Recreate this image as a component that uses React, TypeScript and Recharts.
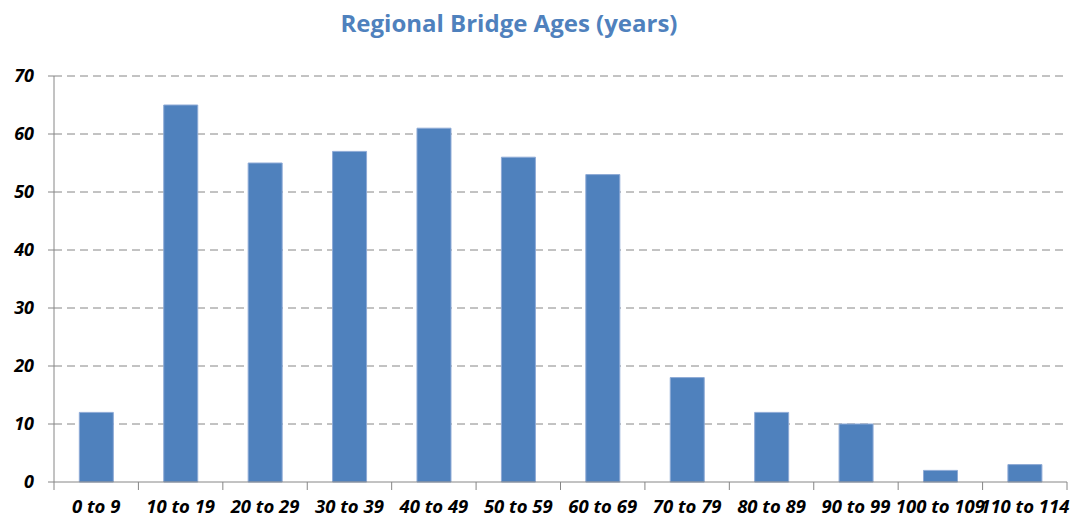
import React from 'react';
import { BarChart, Bar, XAxis, YAxis, CartesianGrid } from 'recharts';

const ageGroups = [
  '0 to 9', '10 to 19', '20 to 29', '30 to 39', '40 to 49', '50 to 59',
  '60 to 69', '70 to 79', '80 to 89', '90 to 99', '100 to 109', '110 to 114',
];
const bridgeCounts = [12, 65, 55, 57, 61, 56, 53, 18, 12, 10, 2, 3];
const yTicks = [0, 10, 20, 30, 40, 50, 60, 70];

const data = ageGroups.map((name, i) => ({ name, value: bridgeCounts[i] }));

const WIDTH = 1075;
const HEIGHT = 517;
const PLOT_LEFT = 54;
const PLOT_RIGHT = 1067;
const BAND = (PLOT_RIGHT - PLOT_LEFT) / ageGroups.length;
const AXIS = '#868686';
const FONT = '"Open Sans", "DejaVu Sans", sans-serif';

// tick y arrives already offset by tickSize + tickMargin (8px below the axis)
const XTick = (props: any) => {
  const { x, y, payload, index } = props;
  const last = index === ageGroups.length - 1;
  return (
    <g>
      <line x1={x - BAND / 2} x2={x - BAND / 2} y1={y - 8} y2={y} stroke={AXIS} />
      {last && <line x1={x + BAND / 2} x2={x + BAND / 2} y1={y - 8} y2={y} stroke={AXIS} />}
      <text
        x={x}
        y={y + 23}
        textAnchor="middle"
        fontFamily={FONT}
        fontSize={18.5}
        fontWeight="bold"
        fontStyle="italic"
        fill="#000"
      >
        {payload.value}
      </text>
    </g>
  );
};

export default function App() {
  return (
    <div style={{ position: 'absolute', left: 0, top: 0, width: WIDTH, height: HEIGHT, background: '#fff' }}>
      <div
        style={{
          position: 'absolute',
          left: 0,
          top: 6,
          width: 1018,
          textAlign: 'center',
          fontFamily: FONT,
          fontWeight: 'bold',
          fontSize: 24,
          color: '#4F81BD',
        }}
      >
        Regional Bridge Ages (years)
      </div>
      <BarChart
        width={WIDTH}
        height={HEIGHT}
        data={data}
        margin={{ top: 76, right: WIDTH - PLOT_RIGHT, bottom: 0, left: 0 }}
        barCategoryGap="30%"
      >
        <CartesianGrid vertical={false} stroke={AXIS} strokeDasharray="8 5" horizontalValues={[10, 20, 30, 40, 50, 60, 70]} />
        <XAxis
          dataKey="name"
          height={35}
          interval={0}
          axisLine={{ stroke: AXIS }}
          tickLine={false}
          tick={<XTick />}
        />
        <YAxis
          width={PLOT_LEFT}
          domain={[0, 70]}
          ticks={yTicks}
          interval={0}
          axisLine={{ stroke: AXIS }}
          tickLine={{ stroke: AXIS }}
          tickSize={6}
          tickMargin={14}
          tick={{ fontFamily: FONT, fontSize: 18, fontWeight: 'bold', fontStyle: 'italic', fill: '#000' }}
        />
        <Bar dataKey="value" fill="#4F81BD" stroke="#8EAAD6" strokeWidth={1} isAnimationActive={false} />
      </BarChart>
    </div>
  );
}
